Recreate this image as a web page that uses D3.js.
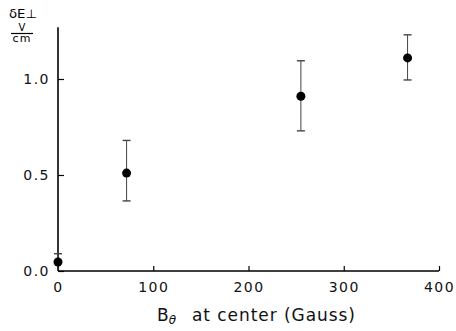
<!DOCTYPE html>
<html><head><meta charset="utf-8">
<script src="https://cdn.jsdelivr.net/npm/d3@7"></script>
<style>body{margin:0;background:#fff}svg{display:block}</style>
</head><body>
<script>
const bTheta = [0, 72, 255, 367];
const deltaE = [0.047, 0.51, 0.91, 1.11];
const errLow = [0.0, 0.365, 0.73, 0.995];
const errHigh = [0.09, 0.68, 1.095, 1.23];
const xTicks = [0, 100, 200, 300, 400];
const yTicks = [0, 0.5, 1.0];

const W = 456, H = 331;
const svg = d3.select("body").append("svg").attr("width", W).attr("height", H);
const font = "DejaVu Sans, sans-serif";

const x = d3.scaleLinear().domain([0, 400]).range([58, 439]);
const y = d3.scaleLinear().domain([0, 1]).range([271, 79]);

// axes
const gx = svg.append("g").attr("transform", `translate(0,${y(0)})`)
  .call(d3.axisBottom(x).tickValues(xTicks).tickSize(-5).tickPadding(11).tickFormat(d3.format("d")));
gx.select(".domain").attr("d", `M${x(0)},0H${x(400)}`).attr("stroke-width", 1.6);
gx.selectAll(".tick line").attr("stroke-width", 1.2);
gx.selectAll(".tick text").attr("font-family", font).attr("font-size", 14).attr("letter-spacing", 1.5).attr("fill", "#111");

const gy = svg.append("g").attr("transform", `translate(${x(0)},0)`)
  .call(d3.axisLeft(y).tickValues(yTicks).tickSize(-6).tickPadding(8).tickFormat(d3.format(".1f")));
gy.select(".domain").attr("d", `M0,${y(1.27)}V${y(0)}`).attr("stroke-width", 1.6);
gy.selectAll(".tick line").attr("stroke-width", 1.2);
gy.selectAll(".tick text").attr("font-family", font).attr("font-size", 14).attr("letter-spacing", 1.5).attr("fill", "#111");

// error bars
const data = bTheta.map((b, i) => ({b, v: deltaE[i], lo: errLow[i], hi: errHigh[i]}));
const eb = svg.append("g").attr("stroke", "#444").attr("stroke-width", 1);
data.forEach(d => {
  eb.append("line").attr("x1", x(d.b)).attr("x2", x(d.b)).attr("y1", y(d.lo)).attr("y2", y(d.hi));
  eb.append("line").attr("x1", x(d.b) - 4).attr("x2", x(d.b) + 4).attr("y1", y(d.hi)).attr("y2", y(d.hi)).attr("stroke-width", 1.4);
  if (d.lo > 0) eb.append("line").attr("x1", x(d.b) - 4).attr("x2", x(d.b) + 4).attr("y1", y(d.lo)).attr("y2", y(d.lo)).attr("stroke-width", 1.4);
});
svg.append("g").selectAll("circle").data(data).join("circle")
  .attr("cx", d => x(d.b)).attr("cy", d => y(d.v)).attr("r", 4.5).attr("fill", "#000");

// y-axis label
svg.append("text").attr("x", 9).attr("y", 18).attr("font-family", font).attr("font-size", 12)
  .attr("textLength", 28).attr("lengthAdjust", "spacingAndGlyphs").text("δE⊥");
svg.append("text").attr("x", 22).attr("y", 31).attr("text-anchor", "middle").attr("font-family", font).attr("font-size", 10).text("V");
svg.append("line").attr("x1", 11).attr("x2", 33).attr("y1", 33.5).attr("y2", 33.5).attr("stroke", "#000").attr("stroke-width", 1.2);
svg.append("text").attr("x", 22).attr("y", 42).attr("text-anchor", "middle").attr("font-family", font).attr("font-size", 11).attr("letter-spacing", 1).text("cm");

// x-axis title
const t = svg.append("text").attr("x", 157).attr("y", 321).attr("font-family", font).attr("font-size", 17).attr("fill", "#111");
t.append("tspan").text("B");
t.append("tspan").attr("font-size", 12).attr("dy", 3).attr("font-style", "italic").text("θ");
svg.append("text").attr("x", 192).attr("y", 321).attr("font-family", font).attr("font-size", 17).attr("fill", "#111")
  .attr("textLength", 163).attr("lengthAdjust", "spacing").text("at center (Gauss)");
</script>
</body></html>
